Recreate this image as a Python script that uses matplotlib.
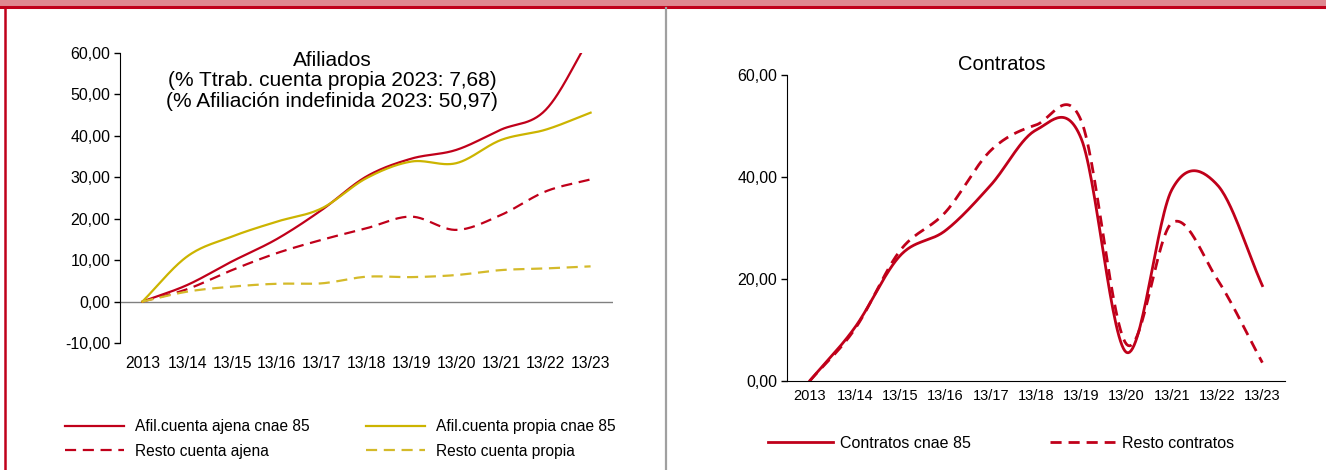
import numpy as np
import matplotlib
matplotlib.use("Agg")
import matplotlib.pyplot as plt
from matplotlib.lines import Line2D

plt.rcParams["font.family"] = ["Liberation Sans", "DejaVu Sans"]

# categorías comunes
categorias = ["2013", "13/14", "13/15", "13/16", "13/17", "13/18",
              "13/19", "13/20", "13/21", "13/22", "13/23"]

# Afiliados (variación % acumulada)
afil_ajena_85 = [0.0, 4.0, 9.7, 15.1, 22.1, 30.2, 34.5, 36.6, 41.5, 46.3, 64.0]
afil_propia_85 = [0.0, 10.9, 15.7, 19.3, 22.5, 29.8, 33.8, 33.4, 39.0, 41.5, 45.6]
resto_ajena = [0.0, 3.0, 7.6, 11.7, 14.9, 17.7, 20.5, 17.3, 20.9, 26.6, 29.5]
resto_propia = [0.0, 2.4, 3.6, 4.3, 4.4, 6.0, 5.9, 6.4, 7.6, 8.0, 8.5]

# Contratos
contratos_85 = [0.0, 10.5, 24.6, 29.5, 38.4, 49.2, 47.5, 5.6, 37.5, 38.5, 18.7]
resto_contratos = [0.0, 10.2, 25.6, 33.1, 45.2, 50.2, 51.0, 7.2, 31.0, 20.0, 3.6]

ROJO = "#C0001A"
AMARILLO = "#CCB400"
AMARILLO_DASH = "#D4BA2A"


def suavizar(y, n=30):
    """Curva suavizada tipo Excel (Catmull-Rom) sobre los puntos dados."""
    y = np.asarray(y, dtype=float)
    x = np.arange(len(y), dtype=float)
    xs, ys = [], []
    for i in range(len(y) - 1):
        y0 = y[i - 1] if i > 0 else y[i]
        y3 = y[i + 2] if i + 2 < len(y) else y[i + 1]
        m1 = (y[i + 1] - y0) / 2.0
        m2 = (y3 - y[i]) / 2.0
        if i == 0:
            m1 = y[i + 1] - y[i]
        if i + 2 >= len(y):
            m2 = y[i + 1] - y[i]
        t = np.linspace(0, 1, n, endpoint=False)
        h00 = 2 * t**3 - 3 * t**2 + 1
        h10 = t**3 - 2 * t**2 + t
        h01 = -2 * t**3 + 3 * t**2
        h11 = t**3 - t**2
        xs.append(x[i] + t)
        ys.append(h00 * y[i] + h10 * m1 + h01 * y[i + 1] + h11 * m2)
    xs.append([x[-1]])
    ys.append([y[-1]])
    return np.concatenate(xs), np.concatenate(ys)


def fmt_coma(v, _):
    return f"{v:.2f}".replace(".", ",")


fig = plt.figure(figsize=(13.26, 4.70), dpi=100)

# marco: banda superior, borde izquierdo y separador
fig.add_artist(plt.Rectangle((0, 1 - 6 / 470), 1, 6 / 470, transform=fig.transFigure,
                             color="#DF8890", lw=0))
fig.add_artist(Line2D([0, 1], [1 - 7 / 470, 1 - 7 / 470], transform=fig.transFigure,
                      color="#C0001A", lw=2.2))
fig.add_artist(Line2D([4.5 / 1326, 4.5 / 1326], [0, 1 - 7 / 470], transform=fig.transFigure,
                      color="#C0001A", lw=1.8))
fig.add_artist(Line2D([665.5 / 1326, 665.5 / 1326], [0, 1 - 8 / 470], transform=fig.transFigure,
                      color="#A0A0A0", lw=1.6))

x = np.arange(len(categorias))

# ---------------- Afiliados ----------------
ax1 = fig.add_axes([120 / 1326, 1 - 343 / 470, 493 / 1326, 290 / 470])
series_izq = [
    (afil_ajena_85, ROJO, "-", "Afil.cuenta ajena cnae 85"),
    (resto_ajena, ROJO, (0, (5, 3)), "Resto cuenta ajena"),
    (afil_propia_85, AMARILLO, "-", "Afil.cuenta propia cnae 85"),
    (resto_propia, AMARILLO_DASH, (0, (5, 3)), "Resto cuenta propia"),
]
for datos, color, ls, etiqueta in series_izq:
    xs, ys = suavizar(datos)
    ax1.plot(xs, ys, color=color, ls=ls, lw=1.6, label=etiqueta)

ax1.axhline(0, color="#808080", lw=1.0, zorder=0)
ax1.set_xlim(-0.5, 10.5)
ax1.set_ylim(-10, 60)
ax1.set_yticks(range(-10, 61, 10))
ax1.yaxis.set_major_formatter(plt.FuncFormatter(fmt_coma))
ax1.set_xticks(x)
ax1.set_xticklabels(categorias)
ax1.tick_params(axis="x", length=0, pad=9, labelsize=11.3)
ax1.tick_params(axis="y", length=4, width=1, labelsize=11.5, pad=3)
for lado in ["top", "right", "bottom"]:
    ax1.spines[lado].set_visible(False)
ax1.spines["left"].set_color("black")

fig.text(332 / 1326, 1 - 51 / 470,
         "Afiliados\n(% Ttrab. cuenta propia 2023: 7,68)\n(% Afiliación indefinida 2023: 50,97)",
         ha="center", va="top", fontsize=15, linespacing=1.1)

handles, labels = ax1.get_legend_handles_labels()
fig.legend(handles, labels, loc="center", bbox_to_anchor=(340 / 1326, 1 - 439 / 470),
           ncol=2, frameon=False, fontsize=11.2, handlelength=3.8,
           columnspacing=3.6, handletextpad=0.7, labelspacing=0.6)

# ---------------- Contratos ----------------
ax2 = fig.add_axes([787 / 1326, 1 - 381 / 470, 498 / 1326, 306 / 470])
series_der = [
    (contratos_85, ROJO, "-", "Contratos cnae 85"),
    (resto_contratos, ROJO, (0, (4, 2.5)), "Resto contratos"),
]
for datos, color, ls, etiqueta in series_der:
    xs, ys = suavizar(datos)
    ax2.plot(xs, ys, color=color, ls=ls, lw=2.0, label=etiqueta)

ax2.set_xlim(-0.5, 10.5)
ax2.set_ylim(0, 60)
ax2.set_yticks([0, 20, 40, 60])
ax2.yaxis.set_major_formatter(plt.FuncFormatter(fmt_coma))
ax2.set_xticks(x)
ax2.set_xticklabels(categorias)
ax2.tick_params(axis="x", length=0, pad=6, labelsize=10.5)
ax2.tick_params(axis="y", length=4, width=1, labelsize=11.5, pad=3)
for lado in ["top", "right"]:
    ax2.spines[lado].set_visible(False)

fig.text(1002 / 1326, 1 - 65 / 470, "Contratos", ha="center", va="center", fontsize=14.5)

handles, labels = ax2.get_legend_handles_labels()
fig.legend(handles, labels, loc="center", bbox_to_anchor=(1001 / 1326, 1 - 443 / 470),
           ncol=2, frameon=False, fontsize=11.5, handlelength=4.1,
           columnspacing=4.9, handletextpad=0.45)

fig.savefig("out.png", dpi=100)
